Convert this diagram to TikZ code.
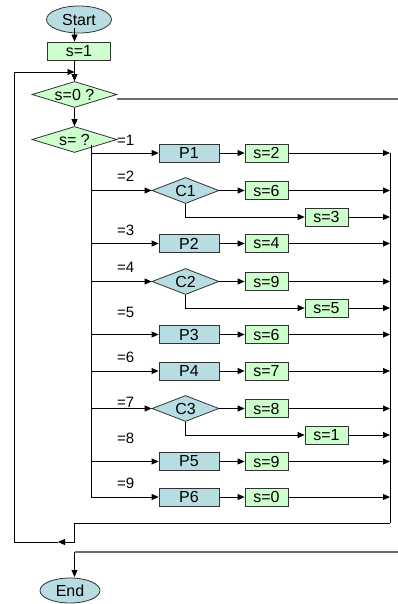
\documentclass[tikz,border=0pt]{standalone}
\usepackage{fontspec}
\setmainfont{Liberation Sans}
\usetikzlibrary{shapes.geometric,arrows.meta}
\definecolor{boxblue}{RGB}{183,221,226}
\definecolor{boxgreen}{RGB}{204,255,204}
\definecolor{rimgray}{RGB}{50,50,50}
\definecolor{exitgray}{RGB}{110,110,110}
\tikzset{
  base/.style={draw=rimgray, line width=0.8pt, inner sep=0pt, font=\fontsize{16}{18}\selectfont},
  procbox/.style={base, fill=boxblue, rectangle, minimum width=60pt, minimum height=18pt},
  setbox/.style={base, fill=boxgreen, rectangle, minimum width=43pt, minimum height=18pt},
  testdia/.style={base, fill=boxgreen, diamond, aspect=3.4, minimum width=85pt, minimum height=26pt},
  casedia/.style={base, fill=boxblue, diamond, aspect=2.6, minimum width=67pt, minimum height=26pt},
  term/.style={base, fill=boxblue, ellipse, minimum width=61pt, minimum height=26pt},
  caselbl/.style={font=\fontsize{15}{17}\selectfont, anchor=west, inner sep=0pt},
  wire/.style={line width=0.8pt},
  flow/.style={wire, -{Triangle[length=7pt,width=6pt]}},
  exitwire/.style={line width=1.2pt, draw=exitgray}
}

\begin{document}
\begin{tikzpicture}[x=1pt,y=-1pt]
    \useasboundingbox (0,0) rectangle (398,604);
    \node[term, minimum width=65pt, minimum height=27pt] (start) at (79,19.5) {Start};
    \node[setbox, minimum width=63pt] (sinit) at (79,51) {s=1};
    \node[testdia] (szero) at (74.5,94.5) {s=0 ?};
    \node[testdia] (scase) at (74.5,139.5) {s= ?};
    \node[procbox] (pone) at (189,153) {P1};
    \node[setbox] (stwo) at (266.5,153) {s=2};
    \node[casedia] (cone) at (185.5,190.5) {C1};
    \node[setbox] (ssix) at (266.5,190.5) {s=6};
    \node[setbox] (sthree) at (326.5,217) {s=3};
    \node[procbox] (ptwo) at (189,243.5) {P2};
    \node[setbox] (sfour) at (266.5,243.5) {s=4};
    \node[casedia] (ctwo) at (185.5,281.5) {C2};
    \node[setbox] (snine) at (266.5,281.5) {s=9};
    \node[setbox] (sfive) at (326.5,308) {s=5};
    \node[procbox] (pthree) at (189,334.5) {P3};
    \node[setbox] (ssixb) at (266.5,334.5) {s=6};
    \node[procbox] (pfour) at (189,371) {P4};
    \node[setbox] (sseven) at (266.5,371) {s=7};
    \node[casedia] (cthree) at (185.5,408.5) {C3};
    \node[setbox] (seight) at (266.5,408.5) {s=8};
    \node[setbox] (soneb) at (326.5,435) {s=1};
    \node[procbox] (pfive) at (189,461.5) {P5};
    \node[setbox] (snineb) at (266.5,461.5) {s=9};
    \node[procbox] (psix) at (189,497) {P6};
    \node[setbox] (szerob) at (266.5,497) {s=0};
    \node[term, minimum width=60pt, minimum height=25pt] (end) at (70,590.5) {End};
    \node[caselbl] (lone) at (117,140) {=1};
    \node[caselbl] (ltwo) at (117,176) {=2};
    \node[caselbl] (lthree) at (117,230) {=3};
    \node[caselbl] (lfour) at (117,267) {=4};
    \node[caselbl] (lfive) at (117,312) {=5};
    \node[caselbl] (lsix) at (117,357) {=6};
    \node[caselbl] (lseven) at (117,402) {=7};
    \node[caselbl] (leight) at (117,438) {=8};
    \node[caselbl] (lnine) at (117,483) {=9};
    \coordinate (col) at (74.5,0);
    \coordinate (sdrop) at (74.5,28);
    \coordinate (bt) at (91,145);
    \coordinate (bb) at (91,497);
    \coordinate (rt) at (390,153);
    \coordinate (rbot) at (390,523);
    \coordinate (ra) at (398,99);
    \coordinate (rb) at (398,552);
    \coordinate (ed) at (74.5,577);
    \coordinate (lj) at (74.5,542);
    \coordinate (lm) at (58,542);
    \coordinate (ll) at (14,542);
    \coordinate (lt) at (14,72);
    \coordinate (jn) at (74.5,72);
    \draw[flow] (sdrop) -- (col |- sinit.north);
    \draw[flow] (col |- sinit.south) -- (szero);
    \draw[flow] (szero) -- (scase);
    \draw[exitwire] (szero.east |- ra) -- (ra);
    \draw[wire] (bt) -- (bb);
    \draw[flow] (bt |- pone) -- (pone);
    \draw[flow] (bt |- cone) -- (cone);
    \draw[flow] (bt |- ptwo) -- (ptwo);
    \draw[flow] (bt |- ctwo) -- (ctwo);
    \draw[flow] (bt |- pthree) -- (pthree);
    \draw[flow] (bt |- pfour) -- (pfour);
    \draw[flow] (bt |- cthree) -- (cthree);
    \draw[flow] (bt |- pfive) -- (pfive);
    \draw[flow] (bb) -- (psix);
    \draw[flow] (pone) -- (stwo);
    \draw[flow] (cone) -- (ssix);
    \draw[flow] (ptwo) -- (sfour);
    \draw[flow] (ctwo) -- (snine);
    \draw[flow] (pthree) -- (ssixb);
    \draw[flow] (pfour) -- (sseven);
    \draw[flow] (cthree) -- (seight);
    \draw[flow] (pfive) -- (snineb);
    \draw[flow] (psix) -- (szerob);
    \draw[flow] (cone.south) |- (sthree);
    \draw[flow] (ctwo.south) |- (sfive);
    \draw[flow] (cthree.south) |- (soneb);
    \draw[flow] (stwo) -- (stwo -| rt);
    \draw[flow] (ssix) -- (ssix -| rt);
    \draw[flow] (sthree) -- (sthree -| rt);
    \draw[flow] (sfour) -- (sfour -| rt);
    \draw[flow] (snine) -- (snine -| rt);
    \draw[flow] (sfive) -- (sfive -| rt);
    \draw[flow] (ssixb) -- (ssixb -| rt);
    \draw[flow] (sseven) -- (sseven -| rt);
    \draw[flow] (seight) -- (seight -| rt);
    \draw[flow] (soneb) -- (soneb -| rt);
    \draw[flow] (snineb) -- (snineb -| rt);
    \draw[flow] (szerob) -- (szerob -| rt);
    \draw[wire] (rt) -- (rbot);
    \draw[flow] (rbot) -| (lj) -- (lm);
    \draw[flow] (lm) -- (ll) -- (lt) -- (jn);
    \draw[exitwire] (rb) -- (rb -| ed);
    \draw[flow] (rb -| ed) -- (ed);
  \end{tikzpicture}
\end{document}
